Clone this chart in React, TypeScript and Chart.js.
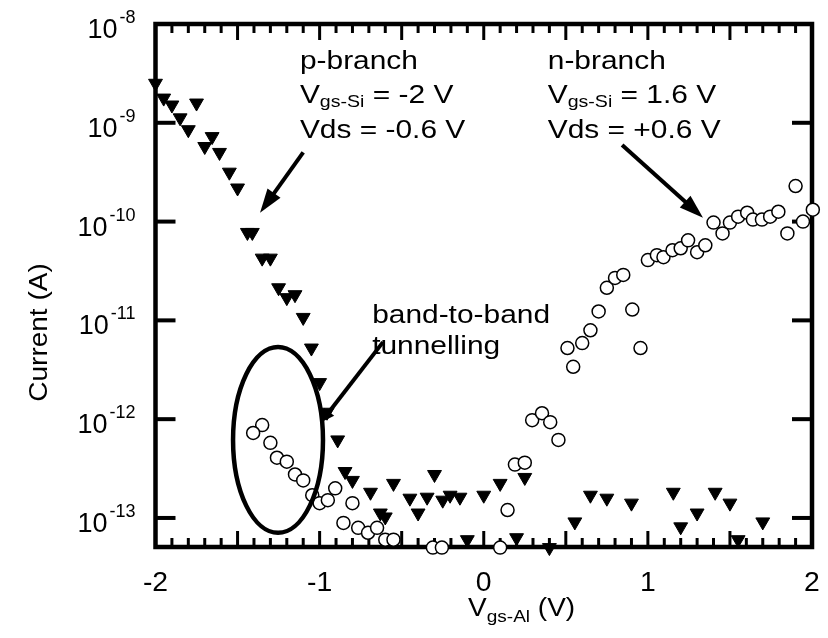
import { useEffect, useRef } from 'react';
import { Chart, registerables } from 'chart.js';

Chart.register(...registerables);

// ---- Data (x: V_gs-Al in V, y: log10 of current in A) ----
const pBranchV = [
  -2.0, -1.95, -1.9, -1.85, -1.8, -1.75, -1.7, -1.655, -1.61, -1.55, -1.5,
  -1.44, -1.41, -1.35, -1.3, -1.25, -1.2, -1.15, -1.1, -1.05, -1.0, -0.955,
  -0.89, -0.845, -0.8, -0.69, -0.63, -0.6, -0.55, -0.45, -0.4, -0.345, -0.3,
  -0.25, -0.205, -0.145, -0.1, 0.0, 0.1, 0.2, 0.25, 0.4, 0.555, 0.65, 0.75,
  0.9, 1.155, 1.2, 1.3, 1.41, 1.5, 1.55, 1.7,
];
const pBranchLogI = [
  -8.6, -8.75, -8.82, -8.95, -9.07, -8.8, -9.24, -9.14, -9.3, -9.5, -9.66,
  -10.11, -10.11, -10.37, -10.37, -10.67, -10.77, -10.74, -10.97, -11.28, -11.63, -11.93,
  -12.21, -12.53, -12.62, -12.74, -12.95, -12.99, -12.65, -12.8, -12.95, -12.79, -12.56,
  -12.82, -12.77, -12.79, -13.22, -12.77, -12.65, -13.2, -12.59, -13.3, -13.04, -12.77, -12.8,
  -12.85, -12.74, -13.09, -12.95, -12.74, -12.85, -13.22, -13.04,
];
const nBranchV = [
  -1.35, -1.405, -1.3, -1.26, -1.2, -1.15, -1.1, -1.045, -1.0, -0.95, -0.905,
  -0.855, -0.8, -0.765, -0.705, -0.65, -0.6, -0.55, -0.31, -0.255, 0.1, 0.145,
  0.19, 0.25, 0.295, 0.355, 0.405, 0.455, 0.51, 0.545, 0.6, 0.65, 0.7, 0.75,
  0.8, 0.85, 0.905, 0.955, 1.0, 1.055, 1.095, 1.15, 1.2, 1.245, 1.3, 1.35,
  1.4, 1.455, 1.5, 1.55, 1.605, 1.64, 1.695, 1.745, 1.795, 1.85, 1.9, 1.945, 2.005,
];
const nBranchLogI = [
  -12.06, -12.14, -12.24, -12.39, -12.43, -12.56, -12.62, -12.77, -12.85, -12.82, -12.7,
  -13.05, -12.85, -13.1, -13.15, -13.1, -13.22, -13.22, -13.3, -13.3, -13.3, -12.92,
  -12.46, -12.44, -12.01, -11.94, -12.03, -12.21, -11.28, -11.47, -11.23, -11.1, -10.91, -10.67,
  -10.57, -10.54, -10.89, -11.28, -10.39, -10.34, -10.36, -10.29, -10.27, -10.19, -10.31, -10.24,
  -10.01, -10.12, -10.01, -9.95, -9.91, -9.98, -9.98, -9.95, -9.9, -10.12, -9.64, -10.0, -9.88,
];

const xTickValues = [-2, -1, 0, 1, 2];
const xTickLabels = ['-2', '-1', '0', '1', '2'];
const yTickExponents = [-8, -9, -10, -11, -12, -13];
const yTickLabels = ['-8', '-9', '-10', '-11', '-12', '-13'];

const xAxisMin = -2;
const xAxisMax = 2;
const yAxisMinExp = -13.294;
const yAxisMaxExp = -8;

const xTitleMain = 'V';
const xTitleSub = 'gs-Al';
const xTitleTail = ' (V)';
const yTitle = 'Current (A)';

// annotation content (anchored in data coordinates)
const textBlocks = [
  { x: -1.12, ly: -8.455, runs: [{ t: 'p-branch' }] },
  { x: -1.12, ly: -8.8, runs: [{ t: 'V' }, { t: 'gs-Si', sub: true }, { t: ' = -2 V' }] },
  { x: -1.12, ly: -9.154, runs: [{ t: 'Vds = -0.6 V' }] },
  { x: 0.39, ly: -8.455, runs: [{ t: 'n-branch' }] },
  { x: 0.39, ly: -8.8, runs: [{ t: 'V' }, { t: 'gs-Si', sub: true }, { t: ' = 1.6 V' }] },
  { x: 0.39, ly: -9.154, runs: [{ t: 'Vds = +0.6 V' }] },
  { x: -0.68, ly: -11.026, runs: [{ t: 'band-to-band' }] },
  { x: -0.68, ly: -11.34, runs: [{ t: 'tunnelling' }] },
];
const arrows = [
  { from: [-1.1, -9.3], to: [-1.363, -9.91], head: 24, width: 16 },
  { from: [0.843, -9.225], to: [1.336, -9.96], head: 24, width: 16 },
  { from: [-0.614, -11.22], to: [-0.991, -12.03], head: 13, width: 13 },
];
const ellipse = { cx: -1.2535, cy: -12.21, rx: 0.274, ry: 0.941 };

const FONT = '"Liberation Sans", Arial, Helvetica, sans-serif';

type Run = { t: string; sub?: boolean; sup?: boolean };

function drawRuns(
  ctx: CanvasRenderingContext2D,
  runs: Run[],
  x: number,
  y: number,
  size: number,
  subSize: number,
  sx: number,
  align: 'left' | 'center' | 'right',
  subDy: number,
) {
  const widths = runs.map((r) => {
    ctx.font = `${r.sub || r.sup ? subSize : size}px ${FONT}`;
    return ctx.measureText(r.t).width * sx;
  });
  const total = widths.reduce((a, b) => a + b, 0);
  let cx = align === 'left' ? x : align === 'center' ? x - total / 2 : x - total;
  runs.forEach((r, i) => {
    ctx.save();
    ctx.font = `${r.sub || r.sup ? subSize : size}px ${FONT}`;
    ctx.textAlign = 'left';
    ctx.textBaseline = 'alphabetic';
    const dy = r.sub ? subDy : r.sup ? -subDy : 0;
    ctx.translate(cx, y + dy);
    ctx.scale(sx, 1);
    ctx.fillText(r.t, 0, 0);
    ctx.restore();
    cx += widths[i];
  });
}

function line(ctx: CanvasRenderingContext2D, x1: number, y1: number, x2: number, y2: number) {
  ctx.beginPath();
  ctx.moveTo(x1, y1);
  ctx.lineTo(x2, y2);
  ctx.stroke();
}

const framePlugin = {
  id: 'frame',
  beforeDatasetsDraw(chart: any) {
    const { ctx, chartArea } = chart;
    const { left, right, top, bottom } = chartArea;
    const xs = chart.scales.x;
    const ys = chart.scales.y;
    ctx.save();
    ctx.strokeStyle = '#000';
    ctx.lineCap = 'butt';
    // x minor/major ticks (inward), every 0.1 V
    ctx.lineWidth = 3;
    for (let i = -20; i <= 20; i++) {
      const v = i / 10;
      const px = xs.getPixelForValue(v);
      const len = i % 5 === 0 ? 16 : 9;
      line(ctx, px, bottom, px, bottom - len);
      line(ctx, px, top, px, top + len);
    }
    // y decade ticks
    ctx.lineWidth = 4;
    ys.ticks.forEach((t: any) => {
      const py = ys.getPixelForValue(t.value);
      line(ctx, left, py, left + 20, py);
      line(ctx, right, py, right - 20, py);
    });
    ctx.lineWidth = 4.5;
    ctx.lineJoin = 'miter';
    ctx.strokeRect(left, top, right - left, bottom - top);
    ctx.restore();
  },
};

const labelPlugin = {
  id: 'labels',
  afterDraw(chart: any) {
    const { ctx, chartArea } = chart;
    const { left, right, top, bottom } = chartArea;
    const xs = chart.scales.x;
    const ys = chart.scales.y;
    ctx.save();
    ctx.fillStyle = '#000';
    // x tick labels
    xs.ticks.forEach((t: any, i: number) => {
      const px = xs.getPixelForValue(t.value);
      drawRuns(ctx, [{ t: xTickLabels[i] }], px, bottom + 44, 27, 18, 1.05, 'center', 0);
    });
    // y tick labels with superscript exponents
    ys.ticks.forEach((t: any, i: number) => {
      const py = ys.getPixelForValue(t.value);
      ctx.font = `18px ${FONT}`;
      const supW = ctx.measureText(yTickLabels[i]).width;
      const rightEdge = left - 20;
      ctx.textAlign = 'right';
      ctx.textBaseline = 'alphabetic';
      ctx.fillText(yTickLabels[i], rightEdge, py - 1);
      ctx.font = `27px ${FONT}`;
      ctx.fillText('10', rightEdge - supW - 2, py + 14);
    });
    // x title
    drawRuns(
      ctx,
      [{ t: xTitleMain }, { t: xTitleSub, sub: true }, { t: xTitleTail }],
      468,
      bottom + 69,
      25,
      17,
      1.12,
      'left',
      6,
    );
    // y title
    ctx.save();
    ctx.translate(47, (top + bottom) / 2 + 47);
    ctx.rotate(-Math.PI / 2);
    drawRuns(ctx, [{ t: yTitle }], 0, 0, 25, 17, 1.12, 'center', 0);
    ctx.restore();

    // annotations
    const X = (v: number) => xs.getPixelForValue(v);
    const Y = (l: number) => ys.getPixelForValue(Math.pow(10, l));
    textBlocks.forEach((b) => {
      drawRuns(ctx, b.runs, X(b.x), Y(b.ly), 26, 17, 1.15, 'left', 4);
    });
    ctx.strokeStyle = '#000';
    ctx.lineWidth = 4;
    arrows.forEach((a) => {
      const x1 = X(a.from[0]);
      const y1 = Y(a.from[1]);
      const x2 = X(a.to[0]);
      const y2 = Y(a.to[1]);
      const dx = x2 - x1;
      const dy = y2 - y1;
      const L = Math.hypot(dx, dy);
      const ux = dx / L;
      const uy = dy / L;
      const bx = x2 - ux * a.head;
      const by = y2 - uy * a.head;
      line(ctx, x1, y1, bx + ux * 2, by + uy * 2);
      ctx.beginPath();
      ctx.moveTo(x2, y2);
      ctx.lineTo(bx - uy * a.width / 2, by + ux * a.width / 2);
      ctx.lineTo(bx + uy * a.width / 2, by - ux * a.width / 2);
      ctx.closePath();
      ctx.fill();
    });
    const ecx = X(ellipse.cx);
    const ecy = Y(ellipse.cy);
    const erx = X(ellipse.cx + ellipse.rx) - ecx;
    const ery = ecy - Y(ellipse.cy + ellipse.ry);
    ctx.lineWidth = 4.5;
    ctx.beginPath();
    ctx.ellipse(ecx, ecy, erx, ery, 0, 0, Math.PI * 2);
    ctx.stroke();
    ctx.restore();
  },
};

export default function App() {
  const ref = useRef<HTMLCanvasElement>(null);
  useEffect(() => {
    if (!ref.current) return;
    const chart = new Chart(ref.current, {
      type: 'scatter',
      data: {
        datasets: [
          {
            label: 'n-branch',
            data: nBranchV.map((v, i) => ({ x: v, y: Math.pow(10, nBranchLogI[i]) })),
            pointStyle: 'circle',
            pointRadius: 6.5,
            pointBackgroundColor: '#ffffff',
            pointBorderColor: '#000000',
            pointBorderWidth: 1.5,
            clip: false,
          } as any,
          {
            label: 'p-branch',
            data: pBranchV.map((v, i) => ({ x: v, y: Math.pow(10, pBranchLogI[i]) })),
            pointStyle: 'triangle',
            pointRotation: 180,
            pointRadius: 8,
            pointBackgroundColor: '#000000',
            pointBorderColor: '#000000',
            pointBorderWidth: 1,
            clip: false,
          } as any,
        ],
      },
      options: {
        responsive: false,
        animation: false,
        events: [],
        layout: { padding: { left: 155.5, right: 16, top: 24, bottom: 91 } },
        plugins: { legend: { display: false }, tooltip: { enabled: false } },
        scales: {
          x: {
            type: 'linear',
            min: xAxisMin,
            max: xAxisMax,
            ticks: { display: false },
            grid: { display: false, drawTicks: false },
            border: { display: false },
            afterBuildTicks: (s: any) => {
              s.ticks = xTickValues.map((v) => ({ value: v }));
            },
          },
          y: {
            type: 'logarithmic',
            min: Math.pow(10, yAxisMinExp),
            max: Math.pow(10, yAxisMaxExp),
            ticks: { display: false },
            grid: { display: false, drawTicks: false },
            border: { display: false },
            afterBuildTicks: (s: any) => {
              s.ticks = yTickExponents.map((e) => ({ value: Math.pow(10, e) }));
            },
          },
        },
      },
      plugins: [framePlugin, labelPlugin],
    });
    return () => chart.destroy();
  }, []);
  return (
    <div style={{ position: 'fixed', left: 0, top: 0, width: 828, height: 638, background: '#fff' }}>
      <canvas ref={ref} width={828} height={638} style={{ display: 'block', width: 828, height: 638 }} />
    </div>
  );
}
